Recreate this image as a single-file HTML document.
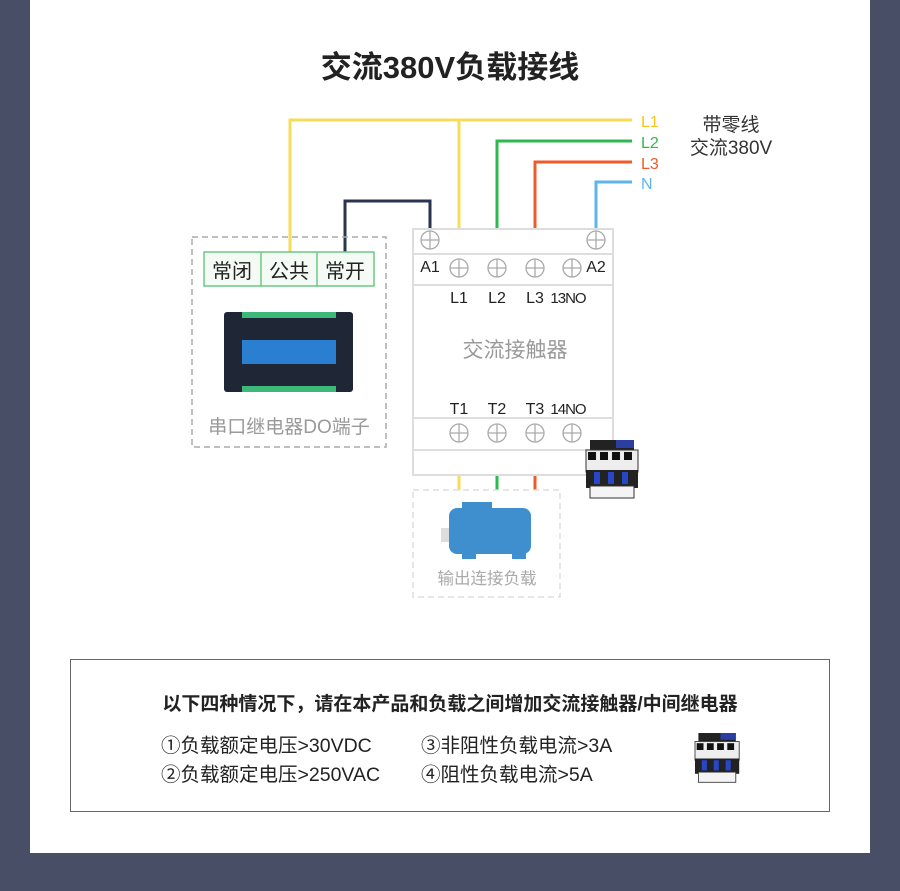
<!DOCTYPE html>
<html><head><meta charset="utf-8"><style>
html,body{margin:0;padding:0;background:#474e66;}
svg{display:block;font-family:"Liberation Sans","Noto Sans CJK SC",sans-serif;}
</style></head><body>
<svg width="900" height="891" viewBox="0 0 900 891" xmlns="http://www.w3.org/2000/svg">
<defs>
<g id="scr"><circle r="9" fill="#fff" stroke="#aaa" stroke-width="1.3"/><path d="M-9 0H9M0 -9V9" stroke="#aaa" stroke-width="1.3"/></g>
<g id="ct">
<rect x="4" y="0" width="44" height="14" fill="#222"/><rect x="30" y="0" width="18" height="8" fill="#2a3fa0"/>
<rect x="0" y="10" width="52" height="22" fill="#eee" stroke="#333"/>
<rect x="2" y="12" width="8" height="8" fill="#111"/><rect x="14" y="12" width="8" height="8" fill="#111"/><rect x="26" y="12" width="8" height="8" fill="#111"/><rect x="38" y="12" width="8" height="8" fill="#111"/>
<rect x="0" y="30" width="52" height="18" fill="#222"/><rect x="8" y="32" width="6" height="12" fill="#2846c8"/><rect x="22" y="32" width="6" height="12" fill="#2846c8"/><rect x="36" y="32" width="6" height="12" fill="#2846c8"/>
<rect x="4" y="46" width="44" height="12" fill="#f4f4f4" stroke="#333"/>
</g>
</defs>
<rect x="0" y="0" width="900" height="891" fill="#474e66"/>
<rect x="30" y="0" width="840" height="853" fill="#fff"/>
<text x="450" y="78" text-anchor="middle" font-size="31" font-weight="bold" fill="#222">交流380V负载接线</text>

<g fill="none" stroke-width="3">
<path d="M632 120H290V254M459 120V268" stroke="#f7dc5a"/>
<path d="M632 141H497V268" stroke="#2db94d"/>
<path d="M632 162H535V268" stroke="#f05a2a"/>
<path d="M632 182H596V240" stroke="#5fb4ee"/>
<path d="M345 254V201H430V240" stroke="#2a3350"/>
<path d="M459 433V490" stroke="#f7dc5a"/>
<path d="M497 433V490" stroke="#2db94d"/>
<path d="M535 433V490" stroke="#f05a2a"/>
</g>
<text x="641" y="127" font-size="16" fill="#f5c518">L1</text>
<text x="641" y="148" font-size="16" fill="#2db94d">L2</text>
<text x="641" y="169" font-size="16" fill="#f05a2a">L3</text>
<text x="641" y="189" font-size="16" fill="#5fb4ee">N</text>
<text x="731" y="131" text-anchor="middle" font-size="19" fill="#333">带零线</text>
<text x="731" y="154" text-anchor="middle" font-size="19" fill="#333">交流380V</text>

<rect x="192" y="237" width="194" height="210" fill="none" stroke="#aaa" stroke-width="1.5" stroke-dasharray="6,4"/>
<rect x="204" y="252" width="170" height="34" fill="#f4fbf5" stroke="#6cc985" stroke-width="1.5"/>
<path d="M261 252V286M317 252V286" stroke="#6cc985" stroke-width="1.5"/>
<text x="232" y="278" text-anchor="middle" font-size="20" fill="#222">常闭</text>
<text x="289" y="278" text-anchor="middle" font-size="20" fill="#222">公共</text>
<text x="345" y="278" text-anchor="middle" font-size="20" fill="#222">常开</text>
<rect x="224" y="312" width="129" height="80" rx="3" fill="#1f2736"/>
<rect x="242" y="312" width="94" height="6" fill="#3cb878"/>
<rect x="242" y="386" width="94" height="6" fill="#3cb878"/>
<rect x="242" y="340" width="94" height="24" fill="#2a7fd0"/>
<text x="289" y="433" text-anchor="middle" font-size="19" fill="#999">串口继电器DO端子</text>

<rect x="413" y="229" width="200" height="246" fill="#fff" stroke="#ddd" stroke-width="2"/>
<path d="M413 254H613M413 285H613M413 418H613M413 450H613" stroke="#ddd" stroke-width="2"/>
<use href="#scr" x="430" y="240"/><use href="#scr" x="596" y="240"/>
<use href="#scr" x="459" y="268"/><use href="#scr" x="497" y="268"/><use href="#scr" x="535" y="268"/><use href="#scr" x="572" y="268"/>
<use href="#scr" x="459" y="433"/><use href="#scr" x="497" y="433"/><use href="#scr" x="535" y="433"/><use href="#scr" x="572" y="433"/>
<text x="430" y="272" text-anchor="middle" font-size="16" fill="#222">A1</text>
<text x="596" y="272" text-anchor="middle" font-size="16" fill="#222">A2</text>
<g font-size="16" fill="#222" text-anchor="middle">
<text x="459" y="303">L1</text><text x="497" y="303">L2</text><text x="535" y="303">L3</text><text x="568" y="303" font-size="15" letter-spacing="-1">13NO</text>
<text x="459" y="414">T1</text><text x="497" y="414">T2</text><text x="535" y="414">T3</text><text x="568" y="414" font-size="15" letter-spacing="-1">14NO</text>
</g>
<text x="515" y="357" text-anchor="middle" font-size="21" fill="#999">交流接触器</text>
<use href="#ct" x="586" y="440"/>

<rect x="413" y="490" width="147" height="107" fill="none" stroke="#ddd" stroke-width="1.5" stroke-dasharray="6,4"/>
<rect x="441" y="528" width="10" height="14" fill="#ddd"/>
<rect x="449" y="508" width="82" height="46" rx="8" fill="#3f8fcf"/>
<rect x="462" y="502" width="30" height="8" fill="#3f8fcf"/>
<rect x="462" y="552" width="14" height="7" fill="#3f8fcf"/><rect x="512" y="552" width="14" height="7" fill="#3f8fcf"/>
<text x="487" y="584" text-anchor="middle" font-size="16.5" fill="#aaa">输出连接负载</text>

<rect x="70.5" y="659.5" width="759" height="152" fill="#fff" stroke="#666" stroke-width="1"/>
<text x="450" y="710" text-anchor="middle" font-size="19" font-weight="bold" fill="#222">以下四种情况下，请在本产品和负载之间增加交流接触器/中间继电器</text>
<g font-size="19.5" fill="#222">
<text x="161" y="752">①负载额定电压&gt;30VDC</text>
<text x="161" y="781">②负载额定电压&gt;250VAC</text>
<text x="421" y="752">③非阻性负载电流&gt;3A</text>
<text x="421" y="781">④阻性负载电流&gt;5A</text>
</g>
<use href="#ct" transform="translate(695,733) scale(0.85)"/>
</svg>
</body></html>
